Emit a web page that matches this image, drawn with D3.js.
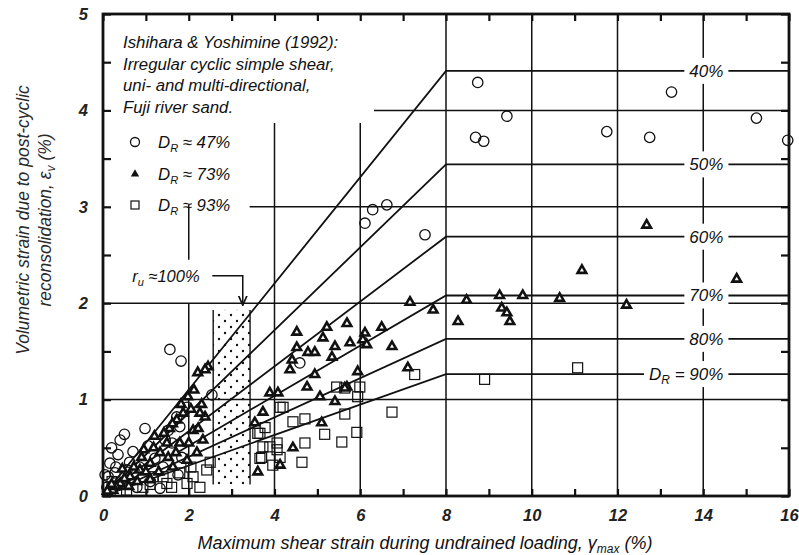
<!DOCTYPE html>
<html>
<head>
<meta charset="utf-8">
<script src="https://cdn.jsdelivr.net/npm/d3@7/dist/d3.min.js"></script>
<style>
  html, body { margin: 0; padding: 0; background: #fff; }
  svg { display: block; font-family: "Liberation Sans", Arial, sans-serif; }
</style>
</head>
<body>
<svg id="chart" width="799" height="555"></svg>
<script>
// ---------------- data ----------------
const xTickValues = [0, 2, 4, 6, 8, 10, 12, 14, 16];
const yTickValues = [0, 1, 2, 3, 4, 5];

const curveLabels = ["40%", "50%", "60%", "70%", "80%", "90%"];
const curveLevels = [4.41, 3.44, 2.69, 2.08, 1.63, 1.265];
const curveBendX = 8;

const legendTitle = ["Ishihara & Yoshimine (1992):", "Irregular cyclic simple shear,", "uni- and multi-directional,", "Fuji river sand."];
const seriesNames = ["47%", "73%", "93%"];

// Dr ≈ 47 % (circles)
const dr47x = [8.74, 8.69, 8.88, 9.42, 11.75, 12.75, 13.26, 15.24, 15.97, 6.11, 6.29, 6.62, 7.51, 1.56, 1.82, 4.59, 2.54,
  0.98, 0.40, 0.70, 0.35, 0.16, 0.28, 0.12, 0.56, 1.52, 1.61, 1.21, 1.84, 1.75, 0.93, 0.44, 1.45, 1.79, 0.09, 0.79, 1.33, 1.72, 1.96, 0.62, 1.05, 0.22,
  0.20, 0.50, 0.30, 0.85, 1.10, 1.40, 0.05];
const dr47y = [4.29, 3.72, 3.68, 3.94, 3.78, 3.72, 4.19, 3.92, 3.69, 2.83, 2.97, 3.02, 2.71, 1.52, 1.40, 1.38, 1.05,
  0.70, 0.58, 0.46, 0.43, 0.34, 0.24, 0.20, 0.27, 0.68, 0.55, 0.39, 0.40, 0.22, 0.20, 0.13, 0.58, 0.72, 0.09, 0.09, 0.08, 0.82, 0.92, 0.35, 0.52, 0.10,
  0.50, 0.64, 0.30, 0.30, 0.15, 0.30, 0.22];

// Dr ≈ 73 % (triangles)
const dr73x = [12.68, 11.17, 14.78, 7.16, 7.70, 8.48, 8.28, 9.25, 9.30, 9.42, 9.49, 9.79, 10.65, 12.21, 7.11,
  4.52, 5.22, 5.69, 6.11, 6.50, 4.52, 4.78, 4.94, 5.13, 5.41, 5.76, 6.06, 6.15, 6.74, 4.41, 5.34, 4.36, 4.94, 4.76, 5.69, 5.94,
  3.89, 4.08, 5.41, 3.73, 5.06, 5.10, 4.43, 5.64, 3.54, 3.61, 4.13, 2.21, 2.45, 2.38, 2.38,
  1.98, 1.87, 1.72, 2.26, 2.10, 2.33, 1.49, 1.79, 1.33, 1.10, 0.86, 0.63, 0.40, 1.96, 2.19, 1.63, 1.10, 0.23, 1.20, 0.95, 1.55,
  0.10, 0.30, 0.50, 0.72, 0.90, 1.18, 1.42, 1.62, 1.82, 2.05, 2.12, 0.60, 0.80, 1.00, 1.30, 1.52, 1.70, 2.00, 2.22, 2.30, 0.20, 0.45];
const dr73y = [2.81, 2.34, 2.25, 2.01, 1.93, 2.03, 1.81, 2.08, 1.95, 1.90, 1.81, 2.08, 2.05, 1.98, 1.33,
  1.70, 1.75, 1.79, 1.69, 1.75, 1.54, 1.49, 1.49, 1.64, 1.55, 1.59, 1.62, 1.57, 1.55, 1.41, 1.44, 1.31, 1.26, 1.13, 1.13, 1.29,
  1.07, 1.07, 0.98, 0.87, 1.03, 0.76, 0.50, 1.12, 0.76, 0.25, 0.32, 1.28, 1.34, 1.31, 0.82,
  1.03, 0.86, 0.79, 0.86, 0.68, 0.58, 0.55, 0.55, 0.45, 0.34, 0.27, 0.20, 0.13, 0.37, 0.45, 0.30, 0.17, 0.06, 0.62, 0.48, 0.70,
  0.05, 0.10, 0.18, 0.30, 0.40, 0.50, 0.65, 0.75, 0.95, 0.90, 1.10, 0.10, 0.15, 0.25, 0.25, 0.40, 0.45, 0.55, 0.70, 0.95, 0.12, 0.28];

// Dr ≈ 93 % (squares)
const dr93x = [11.07, 7.27, 8.90, 5.45, 5.64, 5.99, 5.94, 6.74, 4.43, 4.71, 5.64, 5.17, 5.57, 5.92, 4.71, 4.64,
  4.20, 3.73, 4.06, 3.66, 3.96, 3.66, 2.42, 1.79, 4.13, 3.78, 3.89, 4.13, 3.70, 4.06, 3.61,
  1.49, 0.93, 1.96, 0.21, 1.17, 2.26, 1.60, 0.55, 2.05, 0.40, 1.10, 1.40, 2.10, 2.50];
const dr93y = [1.33, 1.26, 1.21, 1.13, 1.12, 1.13, 1.03, 0.87, 0.77, 0.80, 0.85, 0.64, 0.56, 0.66, 0.55, 0.35,
  0.92, 0.51, 0.48, 0.39, 0.32, 0.65, 0.27, 0.24, 0.92, 0.71, 0.51, 0.40, 0.40, 0.55, 0.65,
  0.13, 0.09, 0.13, 0.15, 0.20, 0.09, 0.09, 0.06, 0.30, 0.05, 0.12, 0.20, 0.20, 0.35];

// ---------------- layout ----------------
const svg = d3.select("#chart");
const L = 103, R = 789, T = 14, B = 496;
const x = d3.scaleLinear().domain([0, 16]).range([L, R]);
const y = d3.scaleLinear().domain([0, 5]).range([B, T]);
const ink = "#111";

// gridlines (partial, as in the original)
const grid = svg.append("g").attr("stroke", ink).attr("stroke-width", 1.5);
const hGrid = [[1, 0, 16], [2, 0, 16], [3, 3.42, 16], [4, 6.32, 16]];
hGrid.forEach(([v, a, b]) => grid.append("line").attr("x1", x(a)).attr("x2", x(b)).attr("y1", y(v)).attr("y2", y(v)));
const vGrid = [[2, 0, 2.0], [2, 2.45, 3.02], [4, 0, 3.87], [6, 0, 3.87], [8, 0, 5], [10, 0, 5], [12, 0, 5], [14, 0, 5]];
vGrid.forEach(([v, a, b]) => grid.append("line").attr("x1", x(v)).attr("x2", x(v)).attr("y1", y(a)).attr("y2", y(b)));

// stippled r_u = 100% zone
const defs = svg.append("defs");
const pat = defs.append("pattern").attr("id", "stip").attr("patternUnits", "userSpaceOnUse")
  .attr("width", 12).attr("height", 12);
pat.append("circle").attr("cx", 3).attr("cy", 3).attr("r", 1.2).attr("fill", ink);
pat.append("circle").attr("cx", 9).attr("cy", 9).attr("r", 1.2).attr("fill", ink);
const zone = [2.57, 3.43, 0.12, 1.93];
svg.append("rect").attr("x", x(zone[0])).attr("y", y(zone[3]))
  .attr("width", x(zone[1]) - x(zone[0])).attr("height", y(zone[2]) - y(zone[3]))
  .attr("fill", "url(#stip)");
[zone[0], zone[1]].forEach(v => svg.append("line").attr("x1", x(v)).attr("x2", x(v))
  .attr("y1", y(zone[2])).attr("y2", y(zone[3])).attr("stroke", ink).attr("stroke-width", 1.4));

// r_u annotation
svg.append("text").attr("x", x(0.68)).attr("y", y(2.22)).attr("font-style", "italic").attr("font-size", 16.5).attr("fill", ink)
  .html('r<tspan font-size="11" dy="4">u</tspan><tspan dy="-4"> ≈100%</tspan>');
defs.append("marker").attr("id", "arr").attr("viewBox", "0 0 10 10").attr("refX", 9).attr("refY", 5)
  .attr("markerWidth", 7).attr("markerHeight", 7).attr("orient", "auto")
  .append("path").attr("d", "M0,1 L9,5 L0,9").attr("fill", "none").attr("stroke", ink).attr("stroke-width", 1.6);
svg.append("path").attr("d", d3.line()([[x(2.55), y(2.285)], [x(3.26), y(2.285)], [x(3.26), y(1.98)]]))
  .attr("fill", "none").attr("stroke", ink).attr("stroke-width", 1.5).attr("marker-end", "url(#arr)");

// settlement curves
const line = d3.line().x(d => x(d[0])).y(d => y(d[1]));
curveLevels.forEach(lv => {
  svg.append("path").attr("d", line([[0, 0], [curveBendX, lv], [16, lv]]))
    .attr("fill", "none").attr("stroke", ink).attr("stroke-width", 1.8);
});

// curve labels with white backing
const labelRightX = 14.47;
curveLabels.forEach((lab, i) => {
  const g = svg.append("g");
  const t = g.append("text").attr("x", x(labelRightX)).attr("y", y(curveLevels[i]) + 6)
    .attr("text-anchor", "end").attr("font-style", "italic").attr("font-size", 17).attr("fill", ink);
  if (i === curveLabels.length - 1) {
    t.html('D<tspan font-size="12" dy="4">R</tspan><tspan dy="-4"> = ' + lab + '</tspan>');
  } else {
    t.text(lab);
  }
  const bb = t.node().getBBox();
  g.insert("rect", "text").attr("x", bb.x - 5).attr("y", y(curveLevels[i]) - 13)
    .attr("width", bb.width + 10).attr("height", 26).attr("fill", "#fff");
});

// data points
const pts = svg.append("g").attr("fill", "none").attr("stroke", ink);
d3.zip(dr47x, dr47y).forEach(([a, b]) => pts.append("circle").attr("cx", x(a)).attr("cy", y(b)).attr("r", 5.2).attr("stroke-width", 1.3));
d3.zip(dr93x, dr93y).forEach(([a, b]) => pts.append("rect").attr("x", x(a) - 5).attr("y", y(b) - 5).attr("width", 10).attr("height", 10).attr("stroke-width", 1.2));
const tri = d3.symbol().type(d3.symbolTriangle).size(32);
d3.zip(dr73x, dr73y).forEach(([a, b]) => pts.append("path").attr("d", tri()).attr("transform", `translate(${x(a)},${y(b)})`)
  .attr("fill", "#fff").attr("stroke-width", 2.6).attr("stroke-linejoin", "miter"));

// axes (ticks pointing inward)
const tickFont = g => g.selectAll("text").attr("font-style", "italic").attr("font-size", 16.5).attr("font-weight", 600).attr("fill", "#222")
  .attr("font-family", "Liberation Sans, Arial, sans-serif");
const yMinor = d3.range(0, 5.01, 0.5);
const xMinor = d3.range(0, 16.01, 1);
svg.append("g").attr("transform", `translate(0,${B})`)
  .call(d3.axisBottom(x).tickValues(xMinor).tickSize(-7).tickPadding(13)
    .tickFormat(d => xTickValues.includes(d) ? d3.format("d")(d) : ""))
  .call(g => g.select(".domain").remove()).call(tickFont)
  .call(g => g.selectAll("line").attr("stroke", ink).attr("stroke-width", 2.2));
svg.append("g").attr("transform", `translate(0,${T})`)
  .call(d3.axisTop(x).tickValues(xMinor).tickSize(-7).tickFormat(""))
  .call(g => g.select(".domain").remove())
  .call(g => g.selectAll("line").attr("stroke", ink).attr("stroke-width", 2.2));
svg.append("g").attr("transform", `translate(${L},0)`)
  .call(d3.axisLeft(y).tickValues(yMinor).tickSize(-8).tickPadding(15)
    .tickFormat(d => yTickValues.includes(d) ? d3.format("d")(d) : ""))
  .call(g => g.select(".domain").remove()).call(tickFont)
  .call(g => g.selectAll("line").attr("stroke", ink).attr("stroke-width", 2.2));
svg.append("g").attr("transform", `translate(${R},0)`)
  .call(d3.axisRight(y).tickValues(yMinor).tickSize(-8).tickFormat(""))
  .call(g => g.select(".domain").remove())
  .call(g => g.selectAll("line").attr("stroke", ink).attr("stroke-width", 2.2));
svg.append("rect").attr("x", L).attr("y", T).attr("width", R - L).attr("height", B - T)
  .attr("fill", "none").attr("stroke", ink).attr("stroke-width", 2.8);

// legend
const lg = svg.append("g").attr("font-style", "italic").attr("font-size", 16.8).attr("fill", ink);
legendTitle.forEach((s, i) => lg.append("text").attr("x", 123).attr("y", 48 + i * 21.7).text(s));
seriesNames.forEach((s, i) => {
  const cy = 142 + i * 31.5;
  lg.append("text").attr("x", 158).attr("y", cy + 6)
    .html('D<tspan font-size="11" dy="4">R</tspan><tspan dy="-4"> ≈ ' + s + '</tspan>');
});
lg.append("circle").attr("cx", 135).attr("cy", 142).attr("r", 4.5).attr("fill", "none").attr("stroke", ink).attr("stroke-width", 1.3);
lg.append("path").attr("d", d3.symbol().type(d3.symbolTriangle).size(30)()).attr("transform", "translate(135,174)").attr("fill", ink);
lg.append("rect").attr("x", 131).attr("y", 201).attr("width", 8).attr("height", 8).attr("fill", "none").attr("stroke", ink).attr("stroke-width", 1.2);

// axis titles
svg.append("text").attr("x", 425).attr("y", 549).attr("text-anchor", "middle").attr("font-style", "italic")
  .attr("font-size", 18).attr("fill", ink)
  .html('Maximum shear strain during undrained loading, γ<tspan font-size="12" dy="4">max</tspan><tspan dy="-4"> (%)</tspan>');
const yt = svg.append("text").attr("transform", "translate(29,220) rotate(-90)").attr("text-anchor", "middle")
  .attr("font-style", "italic").attr("font-size", 17.5).attr("fill", "#2a2a2a");
yt.append("tspan").attr("x", 0).attr("y", 0).text("Volumetric strain due to post-cyclic");
yt.append("tspan").attr("x", 0).attr("y", 22).html('reconsolidation, ε<tspan font-size="12" dy="4">v</tspan><tspan dy="-4"> (%)</tspan>');
</script>
</body>
</html>
